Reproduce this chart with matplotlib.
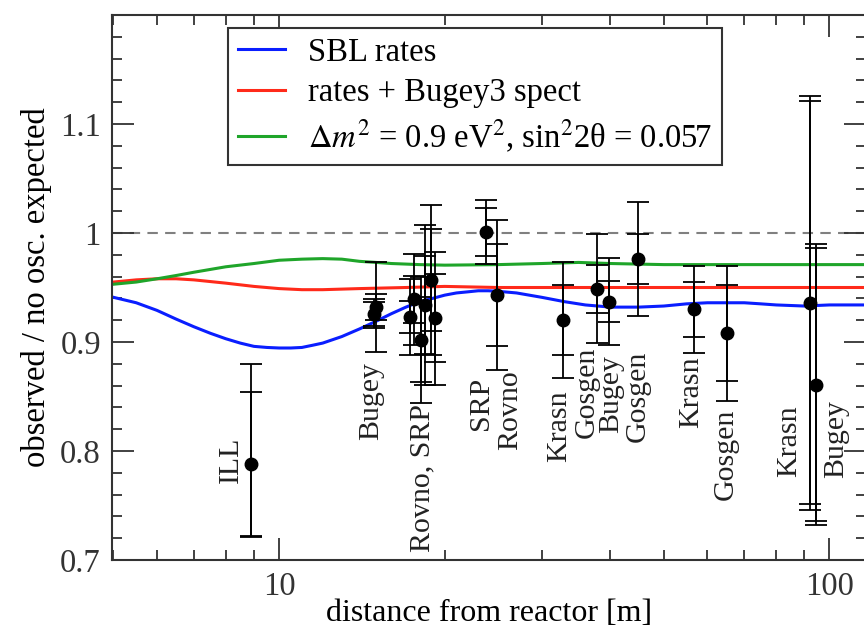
import numpy as np
import matplotlib
matplotlib.use("Agg")
import matplotlib.pyplot as plt
from matplotlib.ticker import FixedLocator, NullFormatter

plt.rcParams['font.family'] = ['Liberation Serif', 'DejaVu Serif']
plt.rcParams['mathtext.fontset'] = 'stix'
plt.rcParams['font.size'] = 23.5

# fit curves
sbl_x = [5.0, 5.5, 6.0, 6.5, 7.0, 7.5, 8.0, 8.5, 9.0, 9.5, 10.0, 10.5, 11.0, 11.5, 12.0, 13.0, 14.0, 15.0,
         16.0, 17.0, 18.0, 19.0, 20.0, 21.0, 22.0, 23.0, 24.0, 25.0, 27.0, 30.0, 33.0, 36.0, 40.0, 45.0,
         50.0, 55.0, 60.0, 65.0, 70.0, 75.0, 80.0, 90.0, 100.0, 117.0]
sbl_y = [0.941, 0.936, 0.929, 0.921, 0.914, 0.908, 0.903, 0.899, 0.896, 0.895, 0.8945, 0.8945, 0.895, 0.897,
         0.899, 0.905, 0.912, 0.919, 0.926, 0.932, 0.937, 0.940, 0.943, 0.945, 0.946, 0.947, 0.947, 0.9465,
         0.945, 0.941, 0.937, 0.934, 0.932, 0.932, 0.933, 0.935, 0.936, 0.936, 0.936, 0.935, 0.934, 0.933,
         0.934, 0.934]

bug_x = [5.0, 5.5, 6.0, 6.5, 7.0, 8.0, 9.0, 10.0, 11.0, 12.0, 14.0, 17.0, 20.0, 25.0, 117.0]
bug_y = [0.955, 0.957, 0.958, 0.958, 0.957, 0.954, 0.951, 0.949, 0.948, 0.948, 0.949, 0.950, 0.951, 0.950, 0.950]

osc_x = [5.0, 5.5, 6.0, 6.5, 7.0, 8.0, 9.0, 10.0, 11.0, 12.0, 13.0, 14.0, 15.0, 16.0, 18.0, 20.0, 25.0,
         30.0, 35.0, 40.0, 50.0, 117.0]
osc_y = [0.953, 0.955, 0.958, 0.961, 0.964, 0.969, 0.972, 0.975, 0.976, 0.9765, 0.976, 0.974, 0.973, 0.972,
         0.971, 0.9705, 0.971, 0.972, 0.973, 0.972, 0.971, 0.971]

# experiments
exp_x = [8.9, 14.9, 15.0, 17.3, 17.6, 18.1, 18.4, 18.9, 19.2, 23.8, 24.9, 32.8, 37.8, 39.8, 44.8, 56.8, 65.0, 92.3, 94.7]
exp_y = [0.788, 0.926, 0.932, 0.923, 0.939, 0.902, 0.934, 0.957, 0.922, 1.001, 0.943, 0.920, 0.949, 0.937, 0.976, 0.930, 0.908, 0.936, 0.861]
err_out_lo = [0.067, 0.013, 0.041, 0.035, 0.042, 0.058, 0.073, 0.069, 0.061, 0.029, 0.069, 0.053, 0.050, 0.040, 0.052, 0.040, 0.062, 0.190, 0.129]
err_out_hi = [0.092, 0.013, 0.041, 0.035, 0.042, 0.058, 0.073, 0.069, 0.061, 0.029, 0.069, 0.053, 0.050, 0.040, 0.052, 0.040, 0.062, 0.190, 0.129]
err_in = [0.066, 0.011, 0.012, 0.015, 0.022, 0.039, 0.045, 0.047, 0.040, 0.022, 0.047, 0.032, 0.022, 0.019, 0.023, 0.025, 0.044, 0.185, 0.125]

labels = ["ILL", "Bugey", "Rovno, SRP", "SRP", "Rovno", "Krasn", "Gosgen", "Bugey", "Gosgen", "Krasn", "Gosgen", "Krasn", "Bugey"]
label_x = [8.18, 14.7, 18.2, 23.3, 26.3, 32.3, 36.2, 40.1, 44.9, 56.1, 64.8, 84.3, 102.6]
label_y = [0.771, 0.810, 0.707, 0.819, 0.801, 0.790, 0.812, 0.8165, 0.808, 0.821, 0.755, 0.776, 0.775]

fig = plt.figure(figsize=(8.64, 6.32), dpi=100)
ax = fig.add_axes([112/864, 72/632, 754/864, 545/632])

ax.axhline(1.0, color='#808080', lw=1.5, ls=(0, (5, 3.5)), zorder=1)

ax.plot(sbl_x, sbl_y, color='#0a1eff', lw=2.2, label='SBL rates', zorder=2)
ax.plot(bug_x, bug_y, color='#ff2a1a', lw=2.2, label='rates + Bugey3 spect', zorder=2)
ax.plot(osc_x, osc_y, color='#1fa52a', lw=2.2,
        label=r'$\Delta m^2$ = 0.9 eV$^2$, sin$^2$2θ = 0.057', zorder=2)

ax.errorbar(exp_x, exp_y, yerr=[err_out_lo, err_out_hi], fmt='none', ecolor='black',
            elinewidth=1.3, capsize=8, capthick=1.3, zorder=3)
ax.errorbar(exp_x, exp_y, yerr=err_in, fmt='none', ecolor='black',
            elinewidth=1.3, capsize=8, capthick=1.3, zorder=3)
ax.plot(exp_x, exp_y, 'o', color='black', ms=9, zorder=4)

for t, lx, ly in zip(labels, label_x, label_y):
    ax.text(lx, ly, t, rotation=90, ha='center', va='bottom', color='#222222', fontsize=21.5)

ax.set_xscale('log')
ax.set_xlim(4.97, 116.5)
ax.set_ylim(0.7, 1.2)
ax.xaxis.set_major_locator(FixedLocator([10, 100]))
ax.xaxis.set_minor_locator(FixedLocator([5, 6, 7, 8, 9, 20, 30, 40, 50, 60, 70, 80, 90]))
ax.xaxis.set_minor_formatter(NullFormatter())
ax.set_xticklabels(['10', '100'])
ax.set_yticks([0.7, 0.8, 0.9, 1.0, 1.1])
ax.set_yticklabels(['0.7', '0.8', '0.9', '1', '1.1'])
ax.set_yticks(np.arange(0.72, 1.2, 0.02), minor=True)
ax.tick_params(which='both', direction='in', top=True, right=True, width=1.3, colors='#333333')
ax.tick_params(which='major', length=16, pad=8)
ax.tick_params(which='minor', length=7)
for s in ax.spines.values():
    s.set_linewidth(1.5)
    s.set_color('#333333')

ax.set_xlabel('distance from reactor [m]', labelpad=-2, fontsize=23)
ax.set_ylabel('observed / no osc. expected', labelpad=6)

leg = ax.legend(loc='upper left', bbox_to_anchor=(0.154, 0.977), frameon=True, fancybox=False,
                edgecolor='#333333', handlelength=1.45, handletextpad=0.7, borderpad=0.3,
                labelspacing=0.3, borderaxespad=0, framealpha=1)
leg.get_frame().set_linewidth(1.5)

fig.savefig('out.png', dpi=100)
